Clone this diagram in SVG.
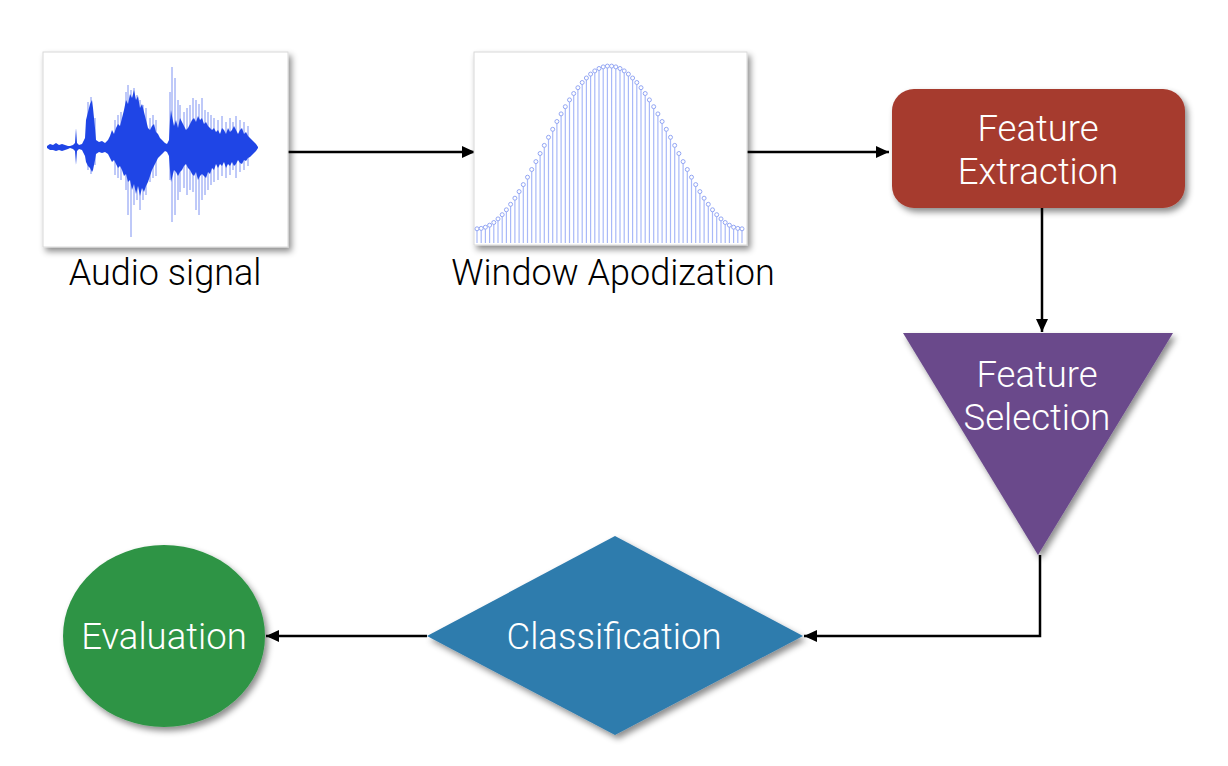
<svg xmlns="http://www.w3.org/2000/svg" width="1228" height="766" viewBox="0 0 1228 766">
<style>
.lbl{font-family:Roboto,"Liberation Sans",sans-serif;font-weight:300;font-size:36px;fill:#000;text-anchor:middle}
.wt{font-family:Roboto,"Liberation Sans",sans-serif;font-weight:300;font-size:36.5px;fill:#fff;text-anchor:middle}
.frame{fill:#fff;stroke:#d8d8d8;stroke-width:1}
.conn{fill:none;stroke:#000;stroke-width:2.5}
.stem{fill:none;stroke:#a9b9f8;stroke-width:1.2}
.dot{fill:#fff;stroke:#93a6f4;stroke-width:1}
.spike{fill:none;stroke:#7f93f2;stroke-width:1}
</style>
<defs>
<filter id="sh" x="-10%" y="-10%" width="125%" height="125%">
<feDropShadow dx="3" dy="4" stdDeviation="3" flood-color="#000" flood-opacity="0.45"/>
</filter>
<marker id="ah" markerUnits="userSpaceOnUse" markerWidth="14" markerHeight="12" refX="13" refY="6" orient="auto">
<path d="M0,0 L13,6 L0,12 z" fill="#000"/>
</marker>
</defs>
<rect width="1228" height="766" fill="#fff"/>

<g id="connectors">
<path class="conn" d="M288 152 H475" marker-end="url(#ah)"/>
<path class="conn" d="M747 152 H889" marker-end="url(#ah)"/>
<path class="conn" d="M1042 208 V332" marker-end="url(#ah)"/>
<path class="conn" d="M1040 555 V636 H804" marker-end="url(#ah)"/>
<path class="conn" d="M427 636 H266" marker-end="url(#ah)"/>
</g>

<g id="audio-signal">
<rect class="frame" x="43" y="52" width="245" height="195" filter="url(#sh)"/>
<g class="spike">
<path d="M88 102V170M91 97V174M95 118V165M115 120V175M118 115V178M121 112V180M126 92V190M128 85V215M131 90V237M134 88V205M137 95V200M140 100V210M143 105V200M146 108V195M150 118V182M153 115V178M156 120V176M170 92V180M172 67V222M175 78V215M178 100V200M180 105V192M184 112V188M187 108V195M190 105V190M193 98V192M196 100V210M199 104V215M202 98V200M205 110V195M208 112V190M211 115V185M214 118V182M218 120V180M222 116V176M226 122V178M230 118V175M233 122V170M236 116V178M240 120V172M244 122V170M248 126V166"/>
</g>
<path fill="#1f45e6" d="M47,146 50,144 53,145 56,143 59,145 62,144 65,145 68,146 70,146 73,145 75,143 76,128 77,143 79,145 82,144 85,138 86,120 88,112 90,104 92,100 93,108 95,128 96,140 99,142 102,141 105,143 108,140 110,136 112,130 114,134 116,128 118,124 120,126 122,118 124,110 126,100 128,104 130,94 132,98 134,90 136,100 138,96 140,108 142,104 144,112 146,120 148,128 150,130 152,126 154,124 156,132 158,134 160,138 162,140 165,143 167,144 169,140 170,120 171,110 172,116 174,126 176,120 178,128 180,118 182,122 184,126 186,130 188,128 190,124 192,120 194,118 196,122 198,116 200,120 202,118 204,124 206,122 208,126 210,128 212,130 214,128 216,132 218,130 220,134 222,128 224,130 226,134 228,128 230,132 232,130 234,126 236,130 238,134 240,130 242,128 244,134 246,132 248,136 250,138 252,140 254,142 256,144 258,147 258,148 256,151 254,153 252,155 250,157 248,158 246,161 244,160 242,164 240,163 238,160 236,164 234,166 232,162 230,166 228,164 226,168 224,162 222,166 220,164 218,168 216,164 214,170 212,168 210,174 208,172 206,178 204,176 202,174 200,176 198,180 196,172 194,176 192,174 190,170 188,168 186,164 184,166 182,170 180,172 178,176 176,172 174,170 172,178 171,182 170,170 169,156 167,152 165,151 162,154 160,156 158,158 156,162 154,166 152,170 150,176 148,182 146,186 144,192 142,188 140,196 138,186 136,194 134,184 132,190 130,180 128,182 126,174 124,176 122,170 120,166 118,168 116,164 114,160 112,162 110,158 108,154 105,152 102,153 99,152 96,154 95,160 93,170 92,172 90,168 88,166 86,162 85,156 82,150 79,149 77,151 76,165 75,151 73,149 70,148 68,149 65,150 62,151 59,150 56,151 53,150 50,150 47,148Z"/>
<text class="lbl" x="165" y="285">Audio signal</text>
</g>

<g id="window-apodization">
<rect class="frame" x="474" y="52" width="273" height="193" filter="url(#sh)"/>
<path class="stem" d="M477 243V228.8M481.2 243V228.4M485.4 243V227.2M489.6 243V225.2M493.8 243V222.5M498 243V218.9M502.2 243V214.7M506.4 243V209.8M510.6 243V204.3M514.9 243V198.2M519.1 243V191.6M523.3 243V184.6M527.5 243V177.2M531.7 243V169.5M535.9 243V161.6M540.1 243V153.5M544.3 243V145.4M548.5 243V137.3M552.7 243V129.3M556.9 243V121.5M561.1 243V113.9M565.3 243V106.7M569.5 243V99.9M573.7 243V93.5M577.9 243V87.7M582.2 243V82.5M586.4 243V78M590.6 243V74.1M594.8 243V70.9M599 243V68.5M603.2 243V66.9M607.4 243V66.1M611.6 243V66.1M615.8 243V66.9M620 243V68.5M624.2 243V70.9M628.4 243V74.1M632.6 243V78M636.8 243V82.5M641 243V87.7M645.2 243V93.5M649.4 243V99.9M653.7 243V106.7M657.9 243V113.9M662.1 243V121.5M666.3 243V129.3M670.5 243V137.3M674.7 243V145.4M678.9 243V153.5M683.1 243V161.6M687.3 243V169.5M691.5 243V177.2M695.7 243V184.6M699.9 243V191.6M704.1 243V198.2M708.3 243V204.3M712.5 243V209.8M716.7 243V214.7M721 243V218.9M725.2 243V222.5M729.4 243V225.2M733.6 243V227.2M737.8 243V228.4M742 243V228.8"/>
<g class="dot">
<circle cx="477" cy="228.8" r="2"/><circle cx="481.2" cy="228.4" r="2"/><circle cx="485.4" cy="227.2" r="2"/><circle cx="489.6" cy="225.2" r="2"/><circle cx="493.8" cy="222.5" r="2"/><circle cx="498" cy="218.9" r="2"/><circle cx="502.2" cy="214.7" r="2"/><circle cx="506.4" cy="209.8" r="2"/><circle cx="510.6" cy="204.3" r="2"/><circle cx="514.9" cy="198.2" r="2"/><circle cx="519.1" cy="191.6" r="2"/><circle cx="523.3" cy="184.6" r="2"/><circle cx="527.5" cy="177.2" r="2"/><circle cx="531.7" cy="169.5" r="2"/><circle cx="535.9" cy="161.6" r="2"/><circle cx="540.1" cy="153.5" r="2"/><circle cx="544.3" cy="145.4" r="2"/><circle cx="548.5" cy="137.3" r="2"/><circle cx="552.7" cy="129.3" r="2"/><circle cx="556.9" cy="121.5" r="2"/><circle cx="561.1" cy="113.9" r="2"/><circle cx="565.3" cy="106.7" r="2"/><circle cx="569.5" cy="99.9" r="2"/><circle cx="573.7" cy="93.5" r="2"/><circle cx="577.9" cy="87.7" r="2"/><circle cx="582.2" cy="82.5" r="2"/><circle cx="586.4" cy="78" r="2"/><circle cx="590.6" cy="74.1" r="2"/><circle cx="594.8" cy="70.9" r="2"/><circle cx="599" cy="68.5" r="2"/><circle cx="603.2" cy="66.9" r="2"/><circle cx="607.4" cy="66.1" r="2"/><circle cx="611.6" cy="66.1" r="2"/><circle cx="615.8" cy="66.9" r="2"/><circle cx="620" cy="68.5" r="2"/><circle cx="624.2" cy="70.9" r="2"/><circle cx="628.4" cy="74.1" r="2"/><circle cx="632.6" cy="78" r="2"/><circle cx="636.8" cy="82.5" r="2"/><circle cx="641" cy="87.7" r="2"/><circle cx="645.2" cy="93.5" r="2"/><circle cx="649.4" cy="99.9" r="2"/><circle cx="653.7" cy="106.7" r="2"/><circle cx="657.9" cy="113.9" r="2"/><circle cx="662.1" cy="121.5" r="2"/><circle cx="666.3" cy="129.3" r="2"/><circle cx="670.5" cy="137.3" r="2"/><circle cx="674.7" cy="145.4" r="2"/><circle cx="678.9" cy="153.5" r="2"/><circle cx="683.1" cy="161.6" r="2"/><circle cx="687.3" cy="169.5" r="2"/><circle cx="691.5" cy="177.2" r="2"/><circle cx="695.7" cy="184.6" r="2"/><circle cx="699.9" cy="191.6" r="2"/><circle cx="704.1" cy="198.2" r="2"/><circle cx="708.3" cy="204.3" r="2"/><circle cx="712.5" cy="209.8" r="2"/><circle cx="716.7" cy="214.7" r="2"/><circle cx="721" cy="218.9" r="2"/><circle cx="725.2" cy="222.5" r="2"/><circle cx="729.4" cy="225.2" r="2"/><circle cx="733.6" cy="227.2" r="2"/><circle cx="737.8" cy="228.4" r="2"/><circle cx="742" cy="228.8" r="2"/>
</g>
<text class="lbl" x="613" y="285">Window Apodization</text>
</g>

<g id="feature-extraction">
<rect x="892" y="89" width="293" height="119" rx="22" fill="#a63b2e" filter="url(#sh)"/>
<text class="wt" x="1038" y="141">Feature</text>
<text class="wt" x="1038" y="184">Extraction</text>
</g>

<g id="feature-selection">
<path d="M903 333 H1173 L1038 555 Z" fill="#6b4a8b" filter="url(#sh)"/>
<text class="wt" x="1037" y="387">Feature</text>
<text class="wt" x="1037" y="430">Selection</text>
</g>

<g id="classification">
<path d="M615 536 L803 636 L615 735 L427 636 Z" fill="#2f7bad" filter="url(#sh)"/>
<text class="wt" x="614" y="649">Classification</text>
</g>

<g id="evaluation">
<ellipse cx="164" cy="636" rx="101" ry="91" fill="#2e9445" filter="url(#sh)"/>
<text class="wt" x="164" y="649">Evaluation</text>
</g>
</svg>
